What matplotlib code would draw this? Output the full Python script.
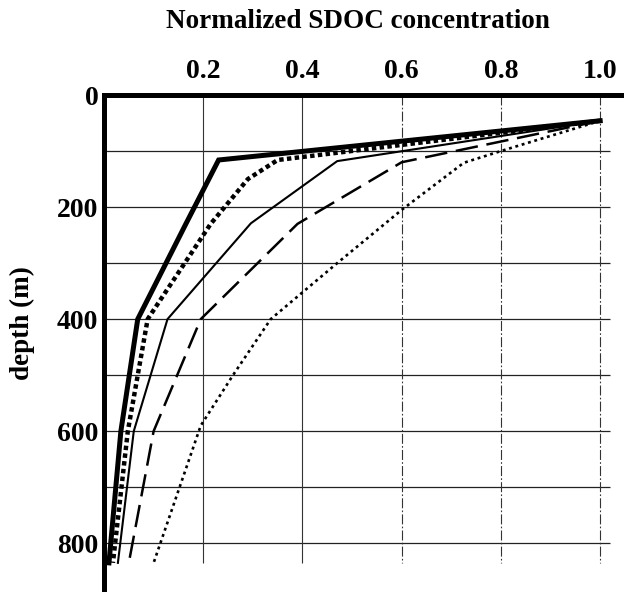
import matplotlib
matplotlib.use("Agg")
import matplotlib.pyplot as plt

# profiles: normalized SDOC vs depth (m)
depth_thick = [46, 116, 230, 400, 600, 835]
conc_thick = [1.0, 0.231, 0.165, 0.068, 0.034, 0.010]

depth_thickdot = [46, 116, 150, 230, 400, 600, 835]
conc_thickdot = [1.0, 0.35, 0.29, 0.215, 0.088, 0.048, 0.018]

depth_thin = [46, 118, 229, 400, 600, 835]
conc_thin = [1.0, 0.47, 0.296, 0.128, 0.060, 0.028]

depth_dash = [46, 120, 230, 400, 600, 835]
conc_dash = [1.0, 0.60, 0.39, 0.195, 0.100, 0.050]

depth_dot = [46, 100, 121, 205, 300, 400, 500, 590, 835]
conc_dot = [1.0, 0.80, 0.725, 0.60, 0.47, 0.336, 0.26, 0.195, 0.10]

xticks = [0.2, 0.4, 0.6, 0.8, 1.0]
xticklabels = ["0.2", "0.4", "0.6", "0.8", "1.0"]
yticks = [0, 200, 400, 600, 800]
ygrid = [100, 200, 300, 400, 500, 600, 700, 800]

font = {"family": "Liberation Serif", "weight": "bold"}

fig = plt.figure(figsize=(6.24, 5.92), dpi=100)
ax = fig.add_axes([104 / 624, 0, 520 / 624, 1 - 95 / 592])

# grid lines (scanned original: short of the axis ends)
ax.hlines(ygrid, 0, 1.02, color="#222222", lw=0.9, zorder=1)
ax.vlines(xticks[:2], 0, 835, color="#333333", lw=0.8, zorder=1)
ax.vlines(xticks[2:], 0, 835, color="#333333", lw=0.8,
          linestyles=[(0, (9, 2, 1.5, 2))], zorder=1)

ax.plot(conc_thick, depth_thick, color="black", lw=3.6, solid_joinstyle="miter", zorder=3)
ax.plot(conc_thickdot, depth_thickdot, color="black", lw=3.2,
        linestyle=(0, (1, 0.75)), dash_capstyle="butt", zorder=3)
ax.plot(conc_thin, depth_thin, color="black", lw=1.5, zorder=3)
ax.plot(conc_dash, depth_dash, color="black", lw=1.8,
        linestyle=(0, (9, 3.5)), zorder=3)
ax.plot(conc_dot, depth_dot, color="black", lw=1.9,
        linestyle=(0, (1.1, 1.4)), dash_capstyle="butt", zorder=3)

ax.set_xlim(0, 1.048)
ax.set_ylim(887, 0)

for s in ["right", "bottom"]:
    ax.spines[s].set_visible(False)
for s in ["top", "left"]:
    ax.spines[s].set_linewidth(3.6)
    ax.spines[s].set_capstyle("projecting")

ax.xaxis.tick_top()
ax.set_xticks(xticks)
ax.set_xticklabels(xticklabels, fontdict=font, fontsize=20)
ax.set_yticks(yticks)
ax.set_yticklabels([str(v) for v in yticks], fontdict=font, fontsize=20)
ax.tick_params(axis="x", length=0, pad=8)
ax.tick_params(axis="y", length=0, pad=4)

ax.xaxis.set_label_position("top")
ax.set_xlabel("Normalized SDOC concentration", fontdict=font, fontsize=19.5)
ax.xaxis.set_label_coords((358 - 104) / 520, 1 + (95 - 21) / 497)
ax.xaxis.label.set_va("center")

ax.set_ylabel("depth (m)", fontdict=font, fontsize=19.5)
ax.yaxis.set_label_coords((22 - 104) / 520, 1 - (323 - 95) / 497)
ax.yaxis.label.set_va("center")

fig.savefig("out.png", dpi=100)
plt.close(fig)
